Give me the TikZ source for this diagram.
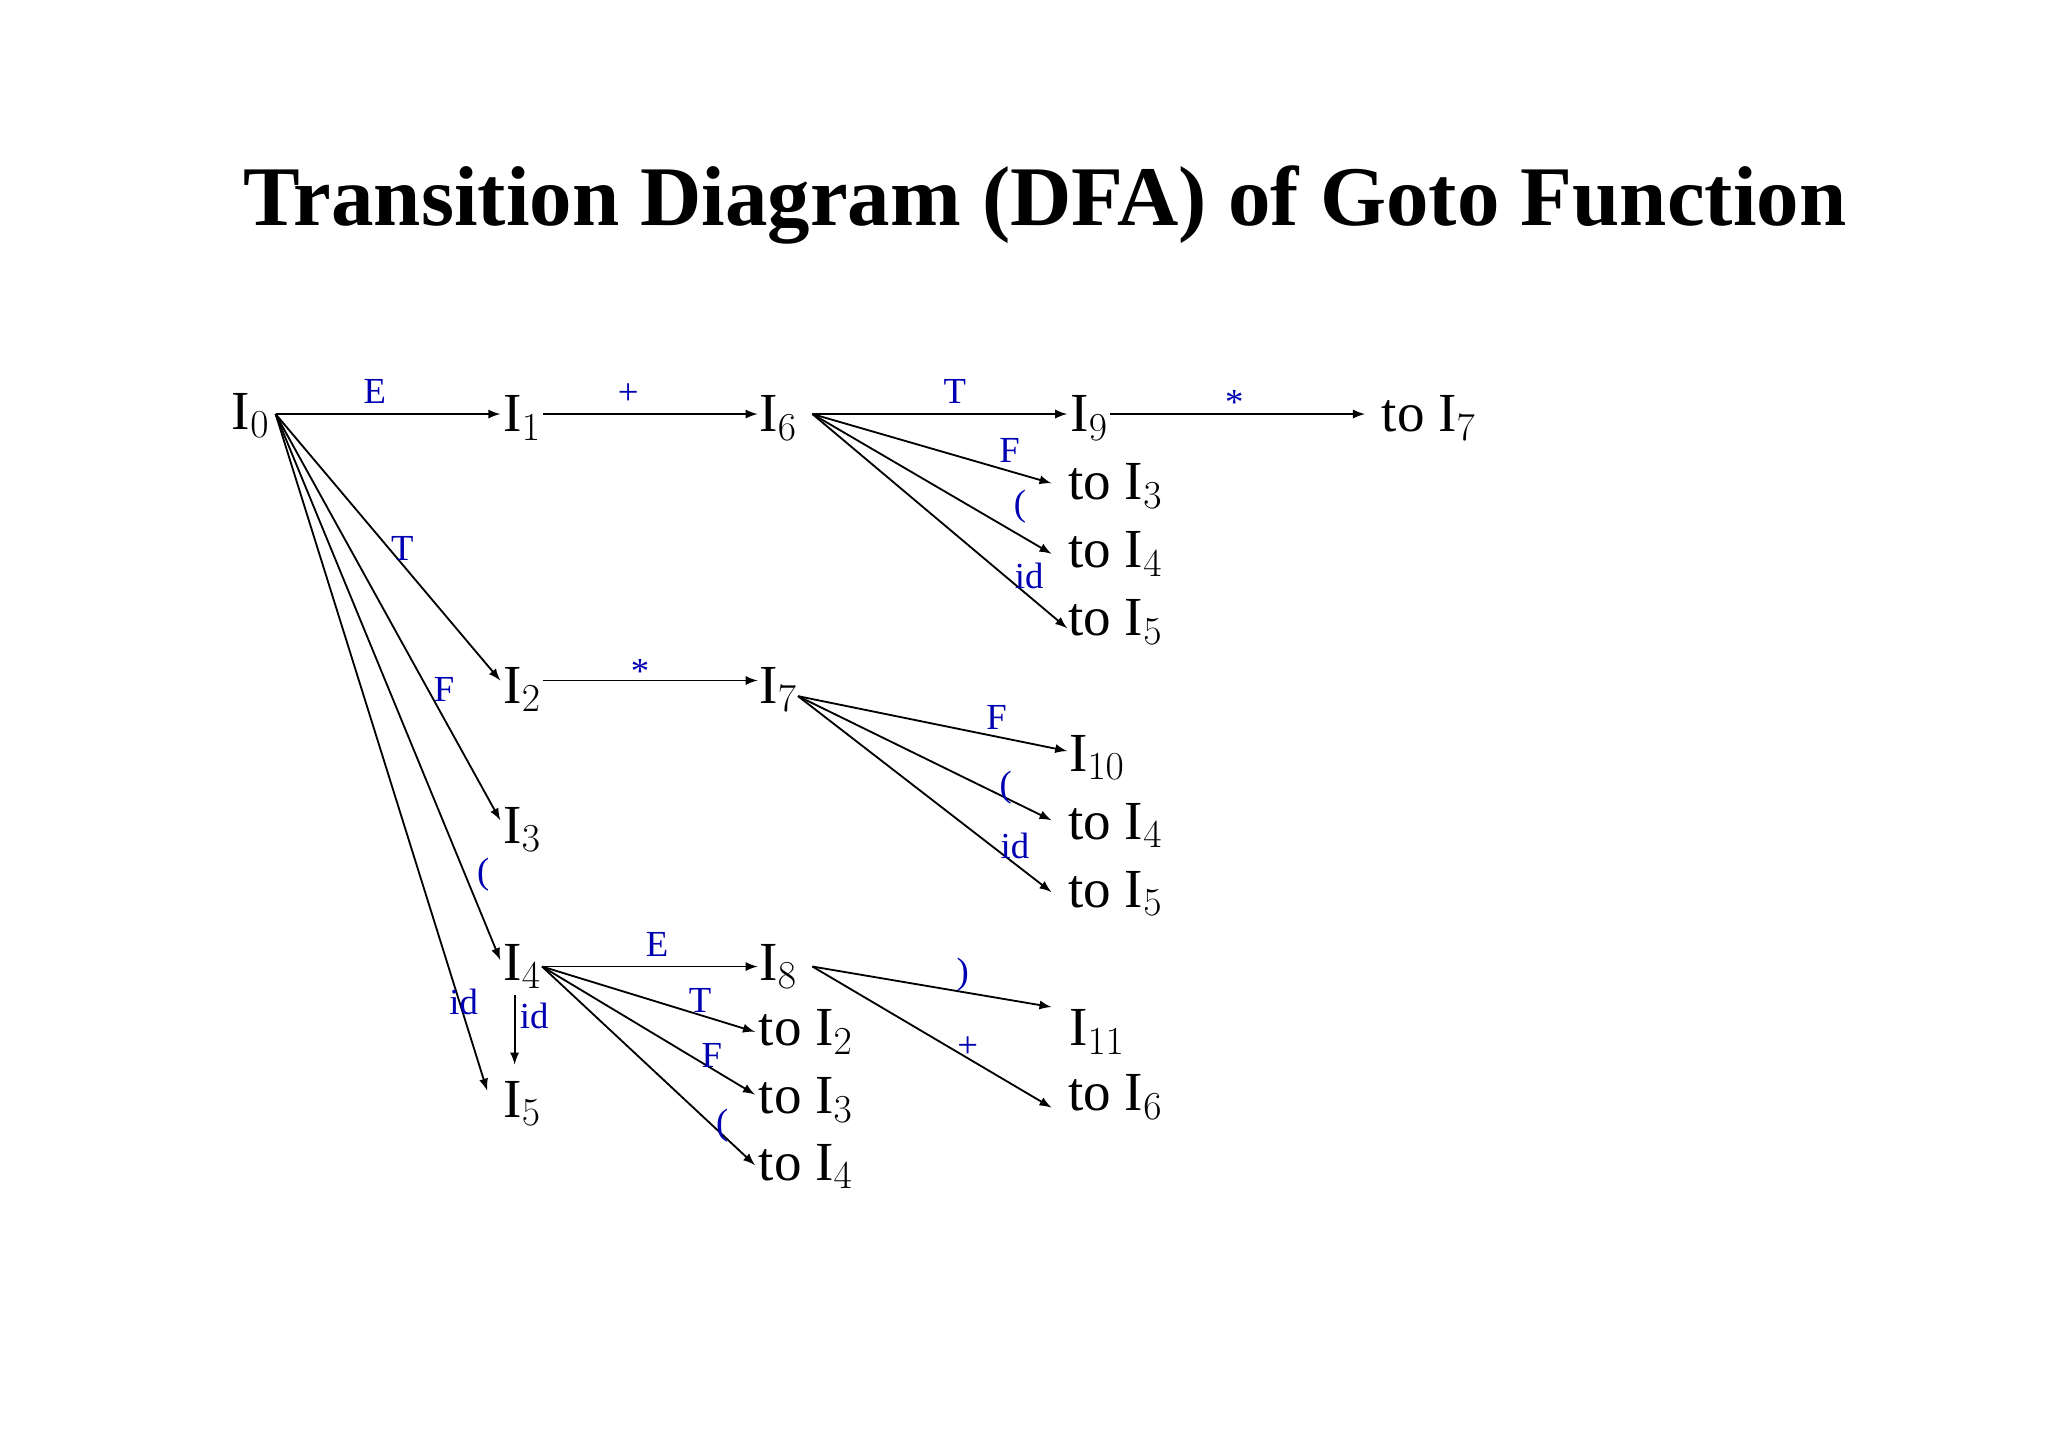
\documentclass[tikz,border=0pt]{standalone}
\usepackage{fontspec}
\setmainfont{Liberation Serif}
\begin{document}
\begin{tikzpicture}[x=0.02cm,y=-0.02cm,
  st/.style={font=\fontsize{24}{24}\selectfont,inner sep=0pt},
  lb/.style={font=\fontsize{16}{16}\selectfont,text=blue!70!black,inner sep=0pt},
  ed/.style={-latex,line width=0.8pt}]
\useasboundingbox (0,0) rectangle (1568,1108);
\node[font=\fontsize{37}{37}\selectfont\bfseries] (title) at (800,157) {Transition Diagram (DFA) of Goto Function};
% states
\node[st] (n0) at (192,318) {I$_0$};
\node[st] (n1) at (400,320) {I$_1$};
\node[st] (n6) at (596,320) {I$_6$};
\node[st] (n9) at (834,320) {I$_9$};
\node[st] (t7) at (1094,320) {to I$_7$};
\node[st] (a3) at (854,372) {to I$_3$};
\node[st] (a4) at (854,424) {to I$_4$};
\node[st] (a5) at (854,476) {to I$_5$};
\node[st] (n2) at (400,528) {I$_2$};
\node[st] (n7) at (596,528) {I$_7$};
\node[st] (n10) at (840,580) {I$_{10}$};
\node[st] (b4) at (854,632) {to I$_4$};
\node[st] (b5) at (854,684) {to I$_5$};
\node[st] (n3) at (400,635) {I$_3$};
\node[st] (n4) at (400,740) {I$_4$};
\node[st] (n8) at (596,740) {I$_8$};
\node[st] (n11) at (840,790) {I$_{11}$};
\node[st] (c6) at (854,840) {to I$_6$};
\node[st] (n5) at (400,845) {I$_5$};
\node[st] (d2) at (617,790) {to I$_2$};
\node[st] (d3) at (617,842) {to I$_3$};
\node[st] (d4) at (617,893) {to I$_4$};
% coordinates
\coordinate (s0) at (211,317);
\coordinate (s1) at (416,317);
\coordinate (s2) at (416,521);
\coordinate (s6) at (622,317);
\coordinate (s9) at (850,317);
\coordinate (s7) at (611,533);
\coordinate (s4) at (415,740);
\coordinate (s4d) at (394,762);
\coordinate (s8) at (622,740);
\draw[ed] (s0) -- (383,317);
\draw[ed] (s0) -- (383,521);
\draw[ed] (s0) -- (383,628);
\draw[ed] (s0) -- (383,735);
\draw[ed] (s0) -- (373,835);
\draw[ed] (s1) -- (580,317);
\draw[ed] (s2) -- (580,521);
\draw[ed] (s6) -- (817,317);
\draw[ed] (s6) -- (805,370);
\draw[ed] (s6) -- (805,424);
\draw[ed] (s6) -- (817,481);
\draw[ed] (s9) -- (1045,317);
\draw[ed] (s7) -- (817,575);
\draw[ed] (s7) -- (805,628);
\draw[ed] (s7) -- (805,683);
\draw[ed] (s4) -- (580,740);
\draw[ed] (s4) -- (578,790);
\draw[ed] (s4) -- (578,838);
\draw[ed] (s4) -- (578,892);
\draw[ed] (s4d) -- (394,815);
\draw[ed] (s8) -- (805,771);
\draw[ed] (s8) -- (805,848);
% labels
\node[lb] at (287,300) {E};
\node[lb] at (481,302) {+};
\node[lb] at (731,300) {T};
\node[lb] at (945,308) {*};
\node[lb] at (308,420) {T};
\node[lb] at (340,528) {F};
\node[lb] at (370,670) {(};
\node[lb] at (355,767) {id};
\node[lb] at (409,778) {id};
\node[lb] at (490,514) {*};
\node[lb] at (773,345) {F};
\node[lb] at (781,388) {(};
\node[lb] at (788,441) {id};
\node[lb] at (763,549) {F};
\node[lb] at (770,603) {(};
\node[lb] at (777,648) {id};
\node[lb] at (503,723) {E};
\node[lb] at (536,766) {T};
\node[lb] at (545,808) {F};
\node[lb] at (553,862) {(};
\node[lb] at (737,746) {)};
\node[lb] at (741,802) {+};
\end{tikzpicture}
\end{document}
